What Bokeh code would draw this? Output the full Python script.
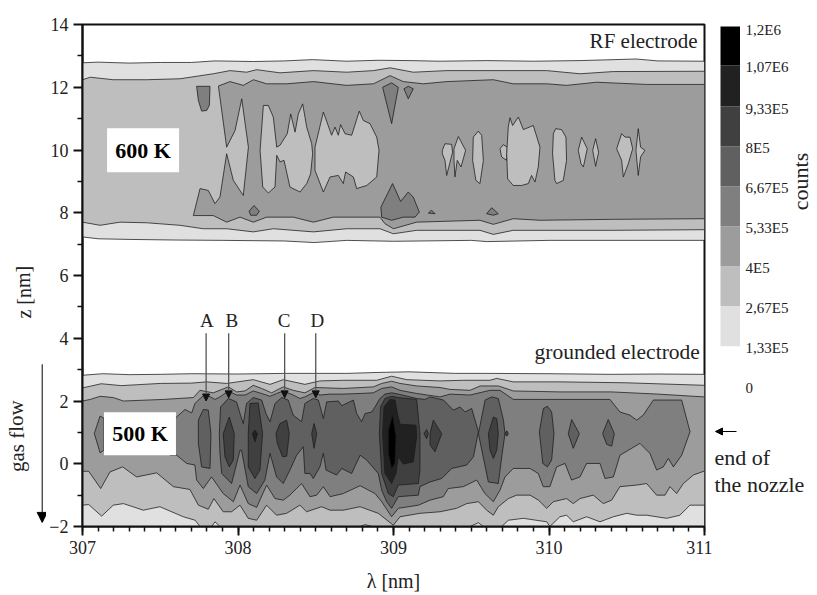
from bokeh.plotting import figure
from bokeh.layouts import row
from bokeh.models import Range1d, FixedTicker, Label, BoxAnnotation, Arrow, NormalHead
from bokeh.core.properties import value
from bokeh.embed import file_html
from bokeh.resources import INLINE

SERIF = "Liberation Serif"

# ---------- colour scale ----------
LEVELS = [1.33e5, 2.67e5, 4e5, 5.33e5, 6.67e5, 8e5, 9.33e5, 1.07e6, 1.2e6]
GREYS = ["#e0e0e0", "#bebebe", "#9c9c9c", "#7f7f7f", "#606060", "#404040", "#212121", "#000000"]
LEVEL_TICKS = [1.2e6, 1.07e6, 9.33e5, 8e5, 6.67e5, 5.33e5, 4e5, 2.67e5, 1.33e5, 0]
LEVEL_LABELS = ["1,2E6", "1,07E6", "9,33E5", "8E5", "6,67E5", "5,33E5", "4E5", "2,67E5", "1,33E5", "0"]

# ---------- 600 K (RF electrode) contours, (wavelength nm, z mm) ----------
T_L1_UP = [(307,12.78),(307.1,12.8),(307.3,12.77),(307.5,12.79),(307.7,12.79),(307.85,12.84),(308.1,12.82),(308.3,12.84),(308.48,12.88),(308.7,12.83),(308.9,12.86),(309.1,12.85),(309.3,12.83),(309.6,12.85),(309.9,12.83),(310.2,12.85),(310.56,12.9),(310.7,12.84),(311,12.83)]
T_L1_LO = [(307,7.23),(307.1,7.17),(307.3,7.15),(307.6,7.13),(307.9,7.12),(308.3,7.1),(308.49,7.05),(308.7,7.12),(309.0,7.09),(309.5,7.12),(309.6,7.08),(310,7.12),(311,7.12)]
T_L2_UP = [(307,12.24),(307.05,12.32),(307.198,12.24),(307.413,12.24),(307.627,12.27),(307.841,12.43),(307.949,12.53),(308.056,12.48),(308.12,12.56),(308.27,12.46),(308.485,12.53),(308.699,12.48),(308.871,12.53),(308.978,12.62),(309.127,12.48),(309.342,12.53),(309.556,12.53),(309.985,12.53),(310.2,12.43),(310.414,12.5),(311,12.51)]
T_L2_LO = [(307,7.70),(307.113,7.6),(307.241,7.70),(307.413,7.68),(307.627,7.6),(307.777,7.49),(307.927,7.49),(308.099,7.39),(308.227,7.49),(308.485,7.39),(308.699,7.49),(308.913,7.49),(308.999,7.33),(309.149,7.44),(309.556,7.44),(309.642,7.31),(309.77,7.44),(310.414,7.44),(311,7.46)]
T_L3 = [(307.874,12.04),(307.949,12.18),(308.034,12.06),(308.099,12.24),(308.184,12.11),(308.313,12.11),(308.485,12.18),(308.699,12.06),(308.871,12.11),(308.978,12.37),(309.063,12.18),(309.192,12.11),(309.342,12.18),(309.642,12.24),(309.77,12.11),(309.985,12.11),(310.113,12.06),(310.306,12.16),(310.628,12.09),(311,12.09),
        (311,7.81),(310.414,7.79),(309.942,7.76),(309.77,7.81),(309.642,7.63),(309.556,7.76),(309.149,7.70),(309.0,7.49),(308.945,7.65),(308.913,7.86),(308.613,7.86),(308.485,7.70),(308.356,7.86),(308.184,7.86),(308.099,7.70),(308.013,7.86),(307.927,7.70),(307.841,7.91),(307.713,7.91),
        (307.756,8.77),(307.809,8.71),(307.852,8.29),(307.884,8.5),(307.927,9.88),(307.97,9.03),(308.034,8.55),(308.067,10.09),(308.024,11.63),(307.981,10.62),(307.927,10.09)]
T_HOLES = [
    [(308.249,10.09),(308.227,11.05),(308.195,11.42),(308.163,11.42),(308.142,9.99),(308.159,8.82),(308.195,8.63),(308.238,8.82),(308.249,9.83),(308.27,9.62),(308.296,9.67),(308.334,8.82),(308.399,8.66),(308.442,8.93),(308.467,9.24),(308.48,9.88),(308.474,10.2),(308.442,10.73),(308.416,11.47),(308.388,11.15),(308.367,10.57),(308.339,11.15),(308.317,10.52),(308.27,10.15)],
    [(308.495,10.09),(308.549,11.21),(308.602,10.47),(308.624,10.73),(308.645,10.47),(308.66,10.81),(308.688,10.52),(308.731,10.47),(308.78,11.24),(308.806,10.94),(308.849,10.84),(308.892,10.41),(308.907,9.99),(308.892,9.14),(308.828,8.87),(308.763,8.77),(308.742,9.14),(308.692,9.3),(308.677,8.93),(308.645,9.19),(308.592,9.14),(308.549,8.66),(308.495,9.35)],
    [(309.314,9.99),(309.331,10.2),(309.374,10.18),(309.38,9.93),(309.342,9.19),(309.331,9.67),(309.314,9.88)],
    [(309.389,10.04),(309.417,10.43),(309.464,9.99),(309.434,9.46),(309.41,9.67),(309.395,9.14),(309.389,9.67)],
    [(309.513,10.41),(309.545,10.6),(309.567,10.47),(309.578,9.67),(309.556,8.93),(309.53,9.03),(309.509,9.67)],
    [(309.685,10.04),(309.706,10.17),(309.732,10.09),(309.728,9.67),(309.695,9.78)],
    [(309.738,10.73),(309.749,11.03),(309.766,10.78),(309.803,11.05),(309.835,10.65),(309.899,10.78),(309.942,10.09),(309.931,9.46),(309.91,8.98),(309.888,9.19),(309.867,8.93),(309.824,8.87),(309.77,8.87),(309.734,9.08),(309.728,9.88)],
    [(310.028,10.52),(310.043,10.68),(310.081,10.65),(310.109,10.41),(310.113,9.67),(310.092,9.03),(310.049,8.93),(310.038,9.03),(310.023,9.88)],
    [(310.188,9.99),(310.21,10.41),(310.246,10.04),(310.221,9.46),(310.206,9.56)],
    [(310.281,9.99),(310.3,10.36),(310.319,9.93),(310.3,9.48)],
    [(310.435,10.04),(310.467,10.52),(310.489,10.41),(310.521,10.41),(310.538,10.04),(310.51,9.56),(310.478,9.14),(310.467,9.67)],
    [(310.559,9.99),(310.574,10.68),(310.589,10.09),(310.617,9.99),(310.589,9.78),(310.574,9.19)],
]
T_L4 = [
    [(307.734,12.03),(307.82,12.03),(307.816,11.42),(307.799,11.26),(307.766,11.24),(307.745,11.58)],
    [(308.071,8.05),(308.103,8.23),(308.137,8.05),(308.12,7.92),(308.082,7.92)],
    [(308.93,12.0),(308.988,12.14),(309.031,12.0),(308.988,10.84)],
    [(308.919,8.18),(308.994,8.93),(309.046,8.36),(309.095,8.66),(309.127,8.5),(309.166,8.02),(309.138,7.86),(309.063,7.86),(308.988,7.76),(308.924,7.86)],
    [(309.067,11.95),(309.095,12.03),(309.127,11.95),(309.095,11.63)],
    [(309.224,7.99),(309.245,8.08),(309.267,7.97)],
    [(309.599,7.97),(309.631,8.16),(309.674,7.97),(309.642,7.92)],
]

# ---------- 500 K (grounded electrode) contours ----------
B_L1_UP = [(307,2.82),(307.13,2.87),(307.3,2.84),(307.5,2.85),(307.7,2.87),(308,2.86),(308.3,2.88),(308.7,2.88),(308.9,2.91),(309.1,2.93),(309.4,2.88),(309.6,2.88),(310,2.87),(310.4,2.85),(310.7,2.86),(311,2.85)]
B_L1_LO = [(307,-2.0),(311,-2.0)]
B_L2_UP = [(307,2.42),(307.05,2.47),(307.12,2.55),(307.25,2.49),(307.5,2.56),(307.7,2.57),(307.798,2.61),(307.927,2.56),(308.098,2.68),(308.206,2.53),(308.291,2.68),(308.43,2.53),(308.527,2.64),(308.677,2.66),(308.892,2.66),(308.988,2.79),(309.085,2.68),(309.299,2.64),(309.449,2.66),(309.62,2.66),(309.664,2.72),(309.771,2.61),(310.071,2.61),(310.5,2.58),(311,2.50)]
B_L2_LO = [(307,-1.32),(307.04,-1.3),(307.123,-1.67),(307.198,-1.32),(307.263,-1.27),(307.391,-1.48),(307.498,-1.37),(307.648,-1.69),(307.724,-1.80),(307.756,-2.0),(307.83,-2.0),(307.852,-1.85),(307.884,-2.0),(308.785,-2.0),(308.817,-1.94),(308.86,-2.0),(309.492,-2.0),(309.546,-1.88),(309.578,-2.0),(309.696,-2.0),(309.739,-1.80),(309.835,-1.74),(309.985,-1.85),(310.006,-2.0),(310.07,-1.69),(310.113,-1.64),(310.156,-1.85),(310.242,-1.69),(310.328,-1.85),(310.414,-1.69),(310.5,-1.58),(310.564,-1.64),(310.628,-1.64),(310.757,-1.74),(310.842,-1.64),(310.906,-1.32),(311,-1.32)]
B_L3_UP = [(307,2.0),(307.05,2.05),(307.113,2.15),(307.198,2.11),(307.263,2.0),(307.52,2.05),(307.713,2.11),(307.755,2.34),(307.841,2.26),(307.938,2.45),(307.991,2.29),(308.045,2.32),(308.098,2.5),(308.152,2.4),(308.216,2.26),(308.291,2.45),(308.355,2.34),(308.43,2.26),(308.495,2.43),(308.677,2.40),(308.87,2.45),(308.924,2.56),(308.988,2.63),(309.042,2.56),(309.149,2.48),(309.299,2.43),(309.364,2.37),(309.492,2.34),(309.557,2.48),(309.674,2.48),(309.771,2.32),(310.071,2.29),(310.4,2.29),(310.7,2.22),(311,2.13)]
B_L3_LO = [(307,-0.24),(307.04,-0.24),(307.117,-0.79),(307.177,-0.26),(307.258,-0.10),(307.348,-0.42),(307.477,-0.29),(307.584,-0.73),(307.691,-0.82),(307.745,-1.32),(307.809,-1.45),(307.845,-1.11),(307.905,-1.53),(307.959,-1.53),(308.013,-1.32),(308.066,-1.74),(308.12,-1.80),(308.184,-1.32),(308.248,-1.64),(308.313,-1.58),(308.398,-1.32),(308.441,-1.53),(308.538,-1.37),(308.592,-1.48),(308.677,-1.48),(308.785,-1.37),(308.902,-1.58),(308.999,-1.96),(309.042,-1.69),(309.17,-1.58),(309.299,-1.53),(309.406,-1.42),(309.471,-1.27),(309.546,-1.21),(309.599,-1.48),(309.642,-1.64),(309.674,-1.37),(309.739,-1.11),(309.792,-1.0),(309.878,-1.0),(309.932,-1.16),(309.985,-1.42),(310.028,-1.21),(310.113,-1.11),(310.156,-1.27),(310.199,-1.11),(310.285,-1.0),(310.349,-1.27),(310.403,-1.16),(310.456,-0.73),(310.564,-0.68),(310.628,-0.63),(310.692,-1.0),(310.746,-1.0),(310.778,-0.73),(310.821,-0.95),(310.864,-0.63),(310.928,-0.36),(311,-0.23)]
B_L4 = [
    [(307.563,1.47),(307.601,1.47),(307.659,1.73),(307.702,1.62),(307.723,1.92),(307.787,2.22),(307.852,2.05),(307.884,2.13),(307.938,2.32),(307.991,2.19),(308.045,2.19),(308.098,2.32),(308.152,2.24),(308.206,2.15),(308.248,2.24),(308.291,2.32),(308.355,2.19),(308.398,2.08),(308.43,2.13),(308.495,2.29),(308.527,2.19),(308.592,2.22),(308.677,2.22),(308.785,2.24),(308.87,2.26),(308.924,2.4),(308.988,2.45),(309.042,2.34),(309.149,2.24),(309.299,2.13),(309.364,2.22),(309.492,2.19),(309.62,2.34),(309.685,2.34),(309.771,2.05),(309.878,2.05),(310.392,2.05),(310.456,1.65),(310.52,1.55),(310.564,1.39),(310.606,1.55),(310.671,2.03),(310.853,2.03),(310.907,1.02),(310.853,0.27),(310.8,-0.1),(310.767,0.17),(310.735,-0.1),(310.692,-0.2),(310.649,0.33),(310.585,0.65),(310.456,0.27),(310.414,-0.42),(310.36,-0.47),(310.328,0.01),(310.242,0.01),(310.199,-0.42),(310.145,-0.52),(310.103,0.01),(310.049,-0.1),(310.006,-0.73),(309.963,-0.73),(309.931,-0.31),(309.878,-0.15),(309.77,-0.15),(309.717,-0.42),(309.685,-0.84),(309.642,-1.21),(309.588,-0.95),(309.535,-0.52),(309.449,-0.73),(309.352,-0.79),(309.32,-1.05),(309.235,-1.16),(309.16,-1.32),(309.031,-1.42),(308.988,-1.69),(308.924,-1.21),(308.881,-0.95),(308.785,-0.70),(308.677,-0.95),(308.592,-1.05),(308.549,-0.73),(308.506,-1.0),(308.463,-1.05),(308.409,-0.63),(308.334,-1.0),(308.291,-1.16),(308.238,-1.11),(308.184,-0.68),(308.12,-1.39),(308.066,-1.27),(308.013,-0.68),(307.97,-1.21),(307.905,-0.95),(307.83,-0.42),(307.777,-0.79),(307.734,-0.52),(307.723,-0.04),(307.67,0.01),(307.606,0.27),(307.563,0.27)],
    [(307.076,0.965),(307.113,1.52),(307.138,1.45),(307.138,0.43),(307.113,0.35)],
]
B_L5 = [
    [(307.745,0.96),(307.745,1.39),(307.777,1.73),(307.809,1.71),(307.826,0.96),(307.82,-0.15),(307.766,-0.10),(307.745,0.65)],
    [(307.88,0.96),(307.888,1.81),(307.938,2.08),(307.991,1.97),(308.013,1.60),(308.034,1.28),(308.055,1.92),(308.098,2.11),(308.152,2.03),(308.18,1.60),(308.206,1.34),(308.238,1.92),(308.281,2.11),(308.323,2.03),(308.355,1.55),(308.409,1.34),(308.43,1.92),(308.484,2.08),(308.517,2.03),(308.549,1.44),(308.57,1.97),(308.645,2.0),(308.667,1.85),(308.742,2.03),(308.763,1.60),(308.795,1.34),(308.817,1.6),(308.86,1.65),(308.881,1.81),(308.913,2.08),(308.945,2.22),(308.988,2.26),(309.031,2.22),(309.149,2.08),(309.203,2.05),(309.235,2.13),(309.321,2.03),(309.385,1.71),(309.428,1.81),(309.46,1.65),(309.503,1.76),(309.546,1.02),(309.514,0.22),(309.471,-0.04),(309.374,-0.15),(309.31,-0.47),(309.235,-0.58),(309.17,-0.73),(309.16,-1.0),(309.031,-1.05),(308.988,-1.42),(308.956,-1.21),(308.924,-0.84),(308.902,-0.31),(308.827,0.12),(308.785,0.27),(308.731,-0.31),(308.667,-0.15),(308.634,-0.36),(308.566,-0.2),(308.549,0.33),(308.527,-0.10),(308.484,-0.47),(308.463,-0.31),(308.43,-0.31),(308.42,0.54),(308.377,0.27),(308.334,-0.2),(308.291,-0.63),(308.248,-0.42),(308.206,0.33),(308.173,-0.52),(308.12,-0.95),(308.066,-0.73),(308.023,0.43),(308.013,0.43),(307.959,-0.63),(307.895,-0.31),(307.884,0.33)],
    [(309.546,0.96),(309.589,2.03),(309.632,2.13),(309.674,2.08),(309.707,1.39),(309.717,0.96),(309.696,0.22),(309.674,-0.63),(309.61,-0.58)],
    [(309.938,1.02),(309.964,1.76),(309.99,1.83),(310.017,1.65),(310.032,0.96),(310.017,0.12),(309.99,-0.10),(309.96,0.01)],
    [(310.124,0.96),(310.146,1.41),(310.195,0.96),(310.156,0.49)],
    [(310.345,0.96),(310.381,1.41),(310.42,0.96),(310.403,0.56),(310.371,0.62)],
]
B_L6 = [
    [(307.905,0.96),(307.944,1.49),(307.976,0.96),(307.97,0.12),(307.944,-0.10),(307.916,0.22)],
    [(308.066,0.96),(308.077,1.92),(308.13,1.94),(308.158,0.96),(308.141,-0.2),(308.109,-0.47),(308.066,-0.10)],
    [(308.244,0.96),(308.27,1.28),(308.313,1.39),(308.33,0.96),(308.313,0.24),(308.287,0.22),(308.253,0.65)],
    [(308.474,0.96),(308.489,1.28),(308.506,0.96),(308.489,0.49)],
    [(308.909,0.96),(308.917,1.81),(308.945,2.08),(308.988,2.15),(309.031,2.11),(309.149,2.05),(309.17,0.96),(309.17,-0.2),(309.16,-0.63),(309.031,-0.68),(308.999,-1.05),(308.967,-0.95),(308.924,-0.31)],
    [(309.196,0.96),(309.213,1.09),(309.224,0.96),(309.213,0.80)],
    [(309.235,0.96),(309.256,1.39),(309.31,0.96),(309.267,0.38),(309.235,0.60)],
    [(309.61,0.96),(309.642,1.49),(309.664,1.44),(309.674,0.96),(309.664,0.43),(309.642,0.17),(309.621,0.43)],
    [(309.717,0.96),(309.728,1.05),(309.739,0.96),(309.728,0.88)],
]
B_L7 = [
    [(308.93,0.96),(308.939,1.81),(308.977,2.05),(309.01,2.03),(309.025,1.6),(309.042,1.26),(309.145,1.23),(309.149,0.86),(309.127,0.06),(309.063,-0.01),(309.031,0.22),(309.016,-0.31),(308.988,-0.63),(308.945,-0.31)],
    [(308.092,0.96),(308.109,1.07),(308.126,0.96),(308.109,0.70)],
]
B_L8 = [[(308.967,1.07),(308.994,1.55),(309.016,0.86),(309.009,0.01),(308.988,-0.15),(308.967,0.33)]]

# ---------- axes ----------
X_TICKS = [307, 308, 309, 310, 311]
X_MINOR = [307 + i / 10 for i in range(41)]
Y_TICKS = [-2, 0, 2, 4, 6, 8, 10, 12, 14]
Y_MINOR = [-1, 1, 3, 5, 7, 9, 11, 13]
PEAKS = ["A", "B", "C", "D"]
PEAK_X = [307.795, 307.94, 308.3, 308.5]
PEAK_TIP = [2.0, 2.1, 2.1, 2.1]
PEAK_LABEL_X = [307.8, 307.96, 308.296, 308.51]


def band(up, lo):
    return up + lo[::-1]


def draw(fig, polys, level):
    fig.patches([[q[0] for q in poly] for poly in polys],
                [[q[1] for q in poly] for poly in polys],
                fill_color=GREYS[level], line_color="#1a1a1a", line_width=0.9, line_alpha=0.85)


# ---------- strip left of the axis: axis title and gas flow arrow ----------
s = figure(width=46, height=595, output_backend="svg", toolbar_location=None,
           x_range=Range1d(0, 46), y_range=Range1d(-2, 14),
           min_border_left=0, min_border_right=0, min_border_top=24, min_border_bottom=69,
           x_axis_location=None, y_axis_location=None)
s.grid.visible = False
s.outline_line_color = None
s.text(x=[23], y=[5.47], text=["z [nm]"], angle=1.5708, text_font=value(SERIF), text_font_size="20px",
       text_align="center", text_baseline="alphabetic", text_color="#222222")
s.text(x=[16], y=[0.88], text=["gas flow"], angle=1.5708, text_font=value(SERIF), text_font_size="21px",
       text_align="center", text_baseline="alphabetic", text_color="#222222")
s.add_layout(Arrow(end=NormalHead(size=10, fill_color="black", line_color="black"),
                   x_start=41.7, y_start=3.17, x_end=41.7, y_end=-1.87,
                   line_color="black", line_width=1))

# ---------- main plot ----------
p = figure(width=666, height=595, output_backend="svg", toolbar_location=None,
           x_range=Range1d(307, 311), y_range=Range1d(-2, 14),
           min_border_left=36, min_border_right=8, min_border_top=24, min_border_bottom=69,
           x_axis_label="λ [nm]")
p.grid.visible = False
p.outline_line_color = "#111111"
p.outline_line_width = 2
p.background_fill_color = "white"

draw(p, [band(T_L1_UP, T_L1_LO), band(B_L1_UP, B_L1_LO)], 0)
draw(p, [band(T_L2_UP, T_L2_LO), band(B_L2_UP, B_L2_LO)], 1)
draw(p, [T_L3, band(B_L3_UP, B_L3_LO)], 2)
draw(p, T_HOLES, 1)
draw(p, T_L4 + B_L4, 3)
draw(p, B_L5, 4)
draw(p, B_L6, 5)
draw(p, B_L7, 6)
draw(p, B_L8, 7)

for ax, major, minor in ((p.xaxis[0], X_TICKS, X_MINOR), (p.yaxis[0], Y_TICKS, Y_MINOR)):
    ax.ticker = FixedTicker(ticks=major, minor_ticks=minor)
    ax.axis_line_width = 2
    ax.axis_line_color = "#111111"
    ax.major_tick_line_width = 2
    ax.major_tick_line_color = "#111111"
    ax.minor_tick_line_width = 1.5
    ax.minor_tick_line_color = "#111111"
    ax.major_tick_in = 0
    ax.major_tick_out = 9
    ax.minor_tick_in = 0
    ax.minor_tick_out = 5
    ax.major_label_text_font = SERIF
    ax.major_label_text_font_size = "18px"
    ax.major_label_text_color = "#222222"
p.xaxis[0].major_label_standoff = 5
p.yaxis[0].major_label_standoff = 5
p.xaxis[0].axis_label_standoff = 13
p.xaxis[0].axis_label_text_font = SERIF
p.xaxis[0].axis_label_text_font_style = "normal"
p.xaxis[0].axis_label_text_font_size = "20px"
p.xaxis[0].axis_label_text_color = "#222222"


def label(fig, x, y, text, size, **kw):
    fig.add_layout(Label(x=x, y=y, text=text, text_font=SERIF, text_font_size=size,
                         text_color=kw.pop("color", "#222222"), **kw))


p.add_layout(BoxAnnotation(left=307.158, right=307.621, bottom=9.29, top=10.69,
                           fill_color="white", fill_alpha=1, line_color=None))
p.add_layout(BoxAnnotation(left=307.138, right=307.601, bottom=0.27, top=1.64,
                           fill_color="white", fill_alpha=1, line_color=None))
label(p, 307.39, 9.99, "600 K", "22px", color="black", text_font_style="bold", text_align="center", text_baseline="middle")
label(p, 307.37, 0.96, "500 K", "22px", color="black", text_font_style="bold", text_align="center", text_baseline="middle")
label(p, 310.955, 13.46, "RF electrode", "21px", text_align="right", text_baseline="middle")
label(p, 310.97, 3.55, "grounded electrode", "21.5px", text_align="right", text_baseline="middle")

for name, lx, ax_, tip in zip(PEAKS, PEAK_LABEL_X, PEAK_X, PEAK_TIP):
    label(p, lx, 4.57, name, "19px", text_align="center", text_baseline="middle")
    p.add_layout(Arrow(end=NormalHead(size=7, fill_color="#111111", line_color="#111111"),
                       x_start=ax_, y_start=4.16, x_end=ax_, y_end=tip,
                       line_color="#555555", line_width=1.3))

# ---------- colour key ----------
k = figure(width=105, height=595, output_backend="svg", toolbar_location=None,
           x_range=Range1d(0, 105), y_range=Range1d(-468750, 1206675),
           min_border_left=0, min_border_right=0, min_border_top=24, min_border_bottom=69,
           x_axis_location=None, y_axis_location=None)
k.grid.visible = False
k.outline_line_color = None
k.quad(left=8, right=27.5, bottom=LEVELS[:-1], top=LEVELS[1:], fill_color=GREYS, line_color=None)
k.text(x=33, y=LEVEL_TICKS[1:], text=LEVEL_LABELS[1:], text_font=value(SERIF), text_font_size="15px",
       text_baseline="middle", text_color="#222222", y_offset=2)
label(k, 33, LEVEL_TICKS[0], LEVEL_LABELS[0], "15px", text_baseline="middle", y_offset=-3)
k.text(x=[88], y=[682687], text=["counts"], angle=1.5708, text_font=value(SERIF), text_font_size="22px",
       text_align="center", text_baseline="alphabetic", text_color="#222222")
k.text(x=[2, 2], y=[-238462, -328575], text=["end of", "the nozzle"], text_font=value(SERIF),
       text_font_size="22px", text_baseline="middle", text_color="#222222")
k.add_layout(Arrow(end=NormalHead(size=7, fill_color="black", line_color="black"),
                   x_start=24, y_start=-151687, x_end=3, y_end=-151687, line_color="black", line_width=1))

layout = row(s, p, k, spacing=0)
open("out.html", "w").write(file_html(layout, INLINE))
